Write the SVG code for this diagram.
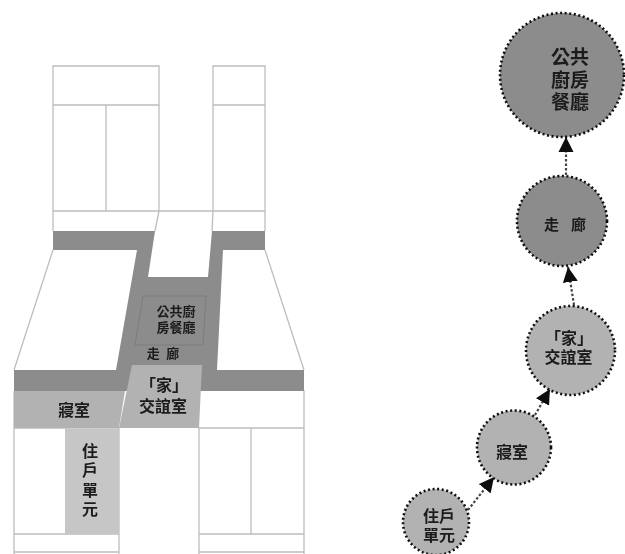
<svg xmlns="http://www.w3.org/2000/svg" width="625" height="554" viewBox="0 0 625 554">
<defs>
<marker id="ah" markerUnits="userSpaceOnUse" markerWidth="16" markerHeight="16" refX="15" refY="8" orient="auto"><path d="M0 0.5L15 8L0 15.5Z" fill="#111"/></marker>
<filter id="soft" x="-2%" y="-2%" width="104%" height="104%"><feGaussianBlur stdDeviation="0.7"/></filter>
</defs>
<style>
text{font-family:"Liberation Sans","Noto Sans CJK TC",sans-serif;fill:#1c1c1c;text-anchor:middle;font-weight:700}
.wall{fill:none;stroke:#bdbdbd;stroke-width:1.3}
.c{fill:#8c8c8c}.h{fill:#b2b2b2}.u{fill:#c6c6c6}
.ring{stroke:#111;stroke-width:2.6;stroke-dasharray:2 2.6}
.link{fill:none;stroke:#444;stroke-width:2.2;stroke-dasharray:2.5 2;marker-end:url(#ah)}
</style>
<rect width="625" height="554" fill="#fff"/>
<g filter="url(#soft)">
<g id="plan-walls">
<path class="wall" d="M53 231V66H159V211M53 105H159M106 105V211M53 211H265M213 211V66H265V231M213 105H265M159 211L155 231M213 211L212 231M53 250L14 370M265 250L304 370"/>
<path class="wall" d="M14 391V554M14 428H119M14 534H119M14 552H119M119 428V554M199 428V554M199 428H304M304 390V554M251 428V534M199 534H304M199 552H304"/>
</g>
<g id="plan-corridor">
<path class="c" d="M53 231H155L148 277H208L212 231H265V250H223L217 370H304V391H14V370H116L137 250H53Z"/>
<path d="M143 296H206L203 345H135Z" fill="#8c8c8c" stroke="#7c7c7c"/>
<text font-size="13"><tspan x="176" y="316">公共廚</tspan><tspan x="176" y="332">房餐廳</tspan></text>
<text x="163" y="358" font-size="13" style="word-spacing:3px">走 廊</text>
</g>
<g id="plan-home">
<path class="h" d="M132 365H202L199 428H119Z"/>
<text font-size="16"><tspan x="164" y="391">「家」</tspan><tspan x="163" y="412">交誼室</tspan></text>
</g>
<g id="plan-bedroom">
<path class="h" d="M14 391H125L119 428H14Z"/>
<text x="74" y="416" font-size="16">寢室</text>
</g>
<g id="plan-unit">
<rect class="u" x="65" y="429" width="54" height="105"/>
<text font-size="16"><tspan x="90" y="457">住</tspan><tspan x="90" y="476">戶</tspan><tspan x="90" y="496">單</tspan><tspan x="90" y="515">元</tspan></text>
</g>
<g id="connectors">
<path class="link" d="M468 510L494 477"/>
<path class="link" d="M535 415L550 389"/>
<path class="link" d="M574 305L568 267"/>
<path class="link" d="M566 175V137"/>
</g>
<g id="node-public">
<circle class="c ring" cx="562" cy="75" r="62"/>
<text font-size="19"><tspan x="570" y="64">公共</tspan><tspan x="570" y="87">廚房</tspan><tspan x="570" y="109">餐廳</tspan></text>
</g>
<g id="node-corridor">
<circle class="c ring" cx="562" cy="221" r="45"/>
<text x="565" y="230" font-size="15" style="word-spacing:8px">走 廊</text>
</g>
<g id="node-home">
<circle class="h ring" cx="570.500" cy="350.500" r="44.500"/>
<text font-size="16"><tspan x="569" y="344">「家」</tspan><tspan x="568.500" y="363">交誼室</tspan></text>
</g>
<g id="node-bedroom">
<circle class="h ring" cx="514" cy="447.500" r="37"/>
<text x="512" y="458" font-size="16">寢室</text>
</g>
<g id="node-unit">
<circle class="h ring" cx="436" cy="522" r="33"/>
<text font-size="16"><tspan x="439" y="522">住戶</tspan><tspan x="439" y="541">單元</tspan></text>
</g>
</g>
</svg>
